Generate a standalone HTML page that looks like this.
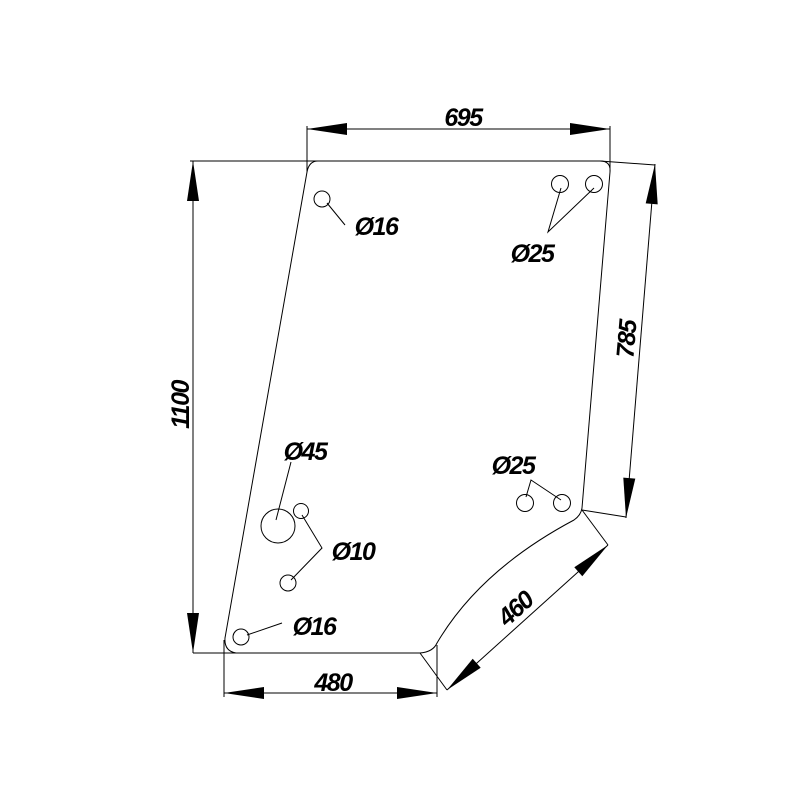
<!DOCTYPE html>
<html><head><style>body{margin:0;background:#fff}</style></head><body>
<svg width="800" height="800" viewBox="0 0 800 800" xmlns="http://www.w3.org/2000/svg">
<rect width="800" height="800" fill="#fff"/>
<g fill="none" stroke="#000" stroke-width="1">
<path d="M318,161 L600,161 Q611,161 610,172 L582,508 Q581,515 574,520 Q480,570 437,643 Q433,652 420,653 L236,653 Q224,651 225,638 L307,172 Q309,161 318,161 Z"/>
<line x1="190" y1="161" x2="318" y2="161"/>
<line x1="600" y1="161" x2="655" y2="165"/>
<line x1="193" y1="653" x2="236" y2="653"/>
<line x1="307" y1="126" x2="307" y2="172"/>
<line x1="610" y1="126" x2="610" y2="172"/>
<line x1="224" y1="640" x2="224" y2="697"/>
<line x1="437" y1="645" x2="437" y2="697"/>
<line x1="420" y1="653" x2="447" y2="690"/>
<line x1="582" y1="510" x2="608" y2="545"/>
<line x1="582" y1="510" x2="626" y2="517"/>
<line x1="307" y1="129" x2="610" y2="129"/>
<line x1="193" y1="161" x2="193" y2="653"/>
<line x1="224" y1="693" x2="437" y2="693"/>
<line x1="655" y1="164" x2="626" y2="518"/>
<line x1="447" y1="690" x2="608" y2="545"/>
<circle cx="322" cy="199" r="8"/>
<circle cx="560" cy="184" r="8.5"/>
<circle cx="594" cy="184" r="8.5"/>
<circle cx="278" cy="526" r="17"/>
<circle cx="301" cy="511" r="7.5"/>
<circle cx="288" cy="583" r="8"/>
<circle cx="525" cy="503" r="8.5"/>
<circle cx="562" cy="503" r="8.5"/>
<circle cx="241" cy="637" r="8"/>
<line x1="327" y1="203" x2="345" y2="225"/>
<polyline points="561,188 548,232 594,188"/>
<line x1="276" y1="520" x2="291" y2="462"/>
<polyline points="302,515 322,548 291,580"/>
<polyline points="526,497 531,480 561,500"/>
<line x1="247" y1="635" x2="282" y2="623"/>
</g>
<g fill="#000">
<polygon points="307,129 347,123 347,135"/>
<polygon points="610,129 570,123 570,135"/>
<polygon points="193,161 187,201 199,201"/>
<polygon points="193,653 187,613 199,613"/>
<polygon points="224,693 264,687 264,699"/>
<polygon points="437,693 397,687 397,699"/>
<polygon points="655,164 657.7,204.4 645.7,203.4"/>
<polygon points="626,518 635.3,478.6 623.3,477.6"/>
<polygon points="608,545 582.3,576.2 574.3,567.3"/>
<polygon points="447,690 480.7,667.7 472.7,658.7"/>
</g>
<g font-family="Liberation Sans, sans-serif" font-size="25" font-style="italic" font-weight="bold" fill="#000" text-anchor="middle" letter-spacing="-1.5">
<text x="463" y="126">695</text>
<text x="333" y="691">480</text>
<text transform="translate(189,405) rotate(-90)">1100</text>
<text transform="translate(635,340) rotate(-85)">785</text>
<text transform="translate(521,615) rotate(-42)">460</text>
<text x="376" y="235">Ø16</text>
<text x="532" y="262">Ø25</text>
<text x="305" y="460">Ø45</text>
<text x="353" y="560">Ø10</text>
<text x="513" y="474">Ø25</text>
<text x="314" y="635">Ø16</text>
</g>
</svg>
</body></html>
